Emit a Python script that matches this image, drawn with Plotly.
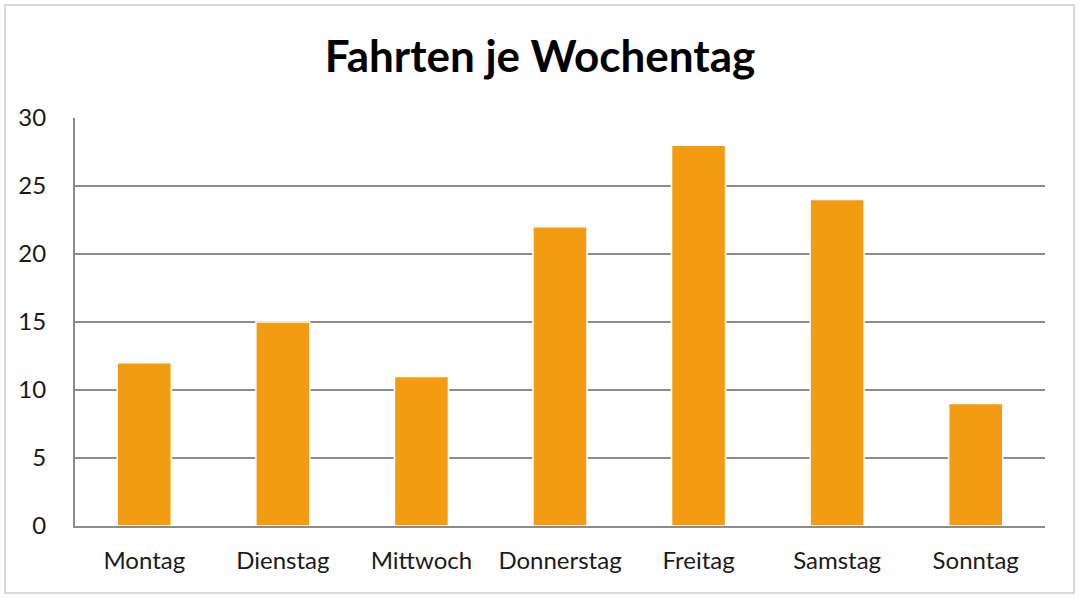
import plotly.graph_objects as go

# data
days = ["Montag", "Dienstag", "Mittwoch", "Donnerstag", "Freitag", "Samstag", "Sonntag"]
trips = [12, 15, 11, 22, 28, 24, 9]
y_ticks = [0, 5, 10, 15, 20, 25, 30]

BAR_COLOR = "#F39C12"
GRID_COLOR = "#8C8C8C"
FONT = "Lato, Open Sans, sans-serif"

fig = go.Figure()
fig.add_trace(
    go.Bar(
        x=days,
        y=trips,
        marker=dict(color=BAR_COLOR, line=dict(width=1.5, color="white")),
        hoverinfo="x+y",
    )
)

fig.update_layout(
    width=1080,
    height=598,
    margin=dict(l=75, r=35, t=118, b=72),
    paper_bgcolor="white",
    plot_bgcolor="white",
    bargap=0.61,
    showlegend=False,
    font=dict(family=FONT, color="#1a1a1a"),
    title=dict(
        text="<b>Fahrten je Wochentag</b>",
        x=0.5,
        xanchor="center",
        y=1 - 57 / 598,
        yanchor="middle",
        font=dict(size=44, family=FONT, color="#000000"),
    ),
)

fig.update_xaxes(
    showline=True,
    linecolor=GRID_COLOR,
    linewidth=2,
    showgrid=False,
    ticks="",
    ticklabelstandoff=12,
    tickfont=dict(size=24, family=FONT, color="#1a1a1a"),
)
fig.update_yaxes(
    range=[0, 30],
    tickvals=y_ticks,
    showline=True,
    linecolor=GRID_COLOR,
    linewidth=2,
    showgrid=True,
    gridcolor=GRID_COLOR,
    gridwidth=2,
    zeroline=False,
    ticks="",
    ticklabelstandoff=22,
    tickfont=dict(size=24, family=FONT, color="#1a1a1a"),
)

# light outer frame like the spreadsheet chart area
fig.add_shape(
    type="rect",
    xref="paper",
    yref="paper",
    x0=(5 - 75) / 970,
    x1=(1074 - 75) / 970,
    y0=(526 - 593) / 408,
    y1=(526 - 5) / 408,
    line=dict(color="#D9D9D9", width=2),
    layer="below",
)

# the page's default body margin would push the figure 8px off
fig.write_html(
    "out.html",
    config={"displayModeBar": False},
    post_script="document.body.style.margin = '0';",
)
